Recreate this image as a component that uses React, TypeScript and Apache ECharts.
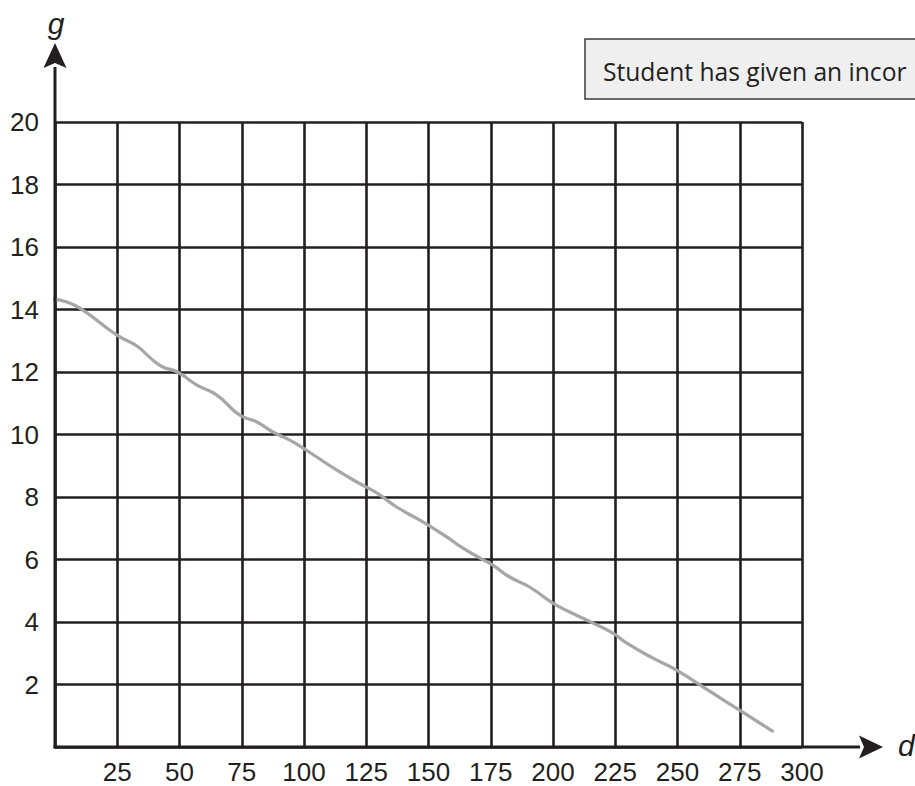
import React, { useEffect, useRef } from "react";
import * as echarts from "echarts";

const dValues = [-2, 4.8, 11.2, 24.9, 32.9, 39.3, 43.3, 49.2, 57.0, 65.0, 74.2, 81.1, 87.5, 94.3, 99.5, 105.1, 113.2, 121.2, 129.2, 137.2, 146.5, 151.7, 158.5, 163.7, 170.5, 175.8, 182.6, 190.6, 199.8, 206.7, 215.9, 223.9, 229.5, 240.0, 249.6, 264.0, 274.9, 288.1];
const gValues = [14.34, 14.24, 13.98, 13.18, 12.83, 12.38, 12.16, 12.0, 11.58, 11.26, 10.62, 10.4, 10.08, 9.82, 9.57, 9.28, 8.86, 8.48, 8.13, 7.68, 7.26, 7.01, 6.66, 6.37, 6.05, 5.82, 5.44, 5.12, 4.61, 4.32, 3.97, 3.65, 3.33, 2.85, 2.46, 1.73, 1.18, 0.51];

const xTickLabels = ["25", "50", "75", "100", "125", "150", "175", "200", "225", "250", "275", "300"];
const yTickLabels = ["2", "4", "6", "8", "10", "12", "14", "16", "18", "20"];

const xAxisName = "d";
const yAxisName = "g";
const noteText = "Student has given an incor";

const INK = "#231f20";
const FONT = "Liberation Sans";

export default function App() {
  const ref = useRef<HTMLDivElement>(null);
  useEffect(() => {
    if (!ref.current) return;
    const chart = echarts.init(ref.current, undefined, { renderer: "svg" });
    const xMax = Number(xTickLabels[xTickLabels.length - 1]);
    const xStep = Number(xTickLabels[0]);
    const yMax = Number(yTickLabels[yTickLabels.length - 1]);
    const yStep = Number(yTickLabels[0]);
    chart.setOption({
      animation: false,
      textStyle: { fontFamily: FONT },
      grid: { left: 55, right: 113, top: 122, bottom: 39, containLabel: false },
      xAxis: {
        type: "value",
        min: 0,
        max: xMax,
        interval: xStep,
        axisLine: { show: false },
        axisTick: { show: false },
        splitLine: { show: true, lineStyle: { color: INK, width: 2.6 } },
        axisLabel: {
          showMinLabel: false,
          margin: 14,
          fontSize: 26,
          lineHeight: 22,
          fontFamily: FONT,
          color: INK,
        },
      },
      yAxis: {
        type: "value",
        min: 0,
        max: yMax,
        interval: yStep,
        axisLine: { show: false },
        axisTick: { show: false },
        splitLine: { show: true, lineStyle: { color: INK, width: 2.6 } },
        axisLabel: {
          showMinLabel: false,
          margin: 16,
          fontSize: 26,
          lineHeight: 22,
          fontFamily: FONT,
          color: INK,
        },
      },
      series: [
        {
          type: "line",
          data: dValues.map((d, i) => [d, gValues[i]]),
          showSymbol: false,
          smooth: true,
          clip: false,
          lineStyle: { color: "#a6a6a6", width: 3.2, cap: "round" },
          z: 3,
        },
      ],
    });
    const o = chart.convertToPixel({ gridIndex: 0 }, [0, 0]) as number[];
    const top = chart.convertToPixel({ gridIndex: 0 }, [0, yMax]) as number[];
    const right = chart.convertToPixel({ gridIndex: 0 }, [xMax, 0]) as number[];
    const ox = o[0];
    const oy = o[1];
    const yBase = top[1] - 57;
    const yTip = top[1] - 79;
    const xBase = right[0] + 60;
    const xTip = right[0] + 81;
    chart.setOption({
      graphic: [
        {
          type: "line",
          shape: { x1: ox, y1: oy + 1.3, x2: ox, y2: yBase + 2 },
          style: { stroke: INK, lineWidth: 3 },
          z: 10,
        },
        {
          type: "polygon",
          shape: { points: [[ox, yTip], [ox - 11.5, yBase + 3], [ox, yBase - 2], [ox + 11.5, yBase + 3]] },
          style: { fill: INK },
          z: 10,
        },
        {
          type: "line",
          shape: { x1: ox - 1.5, y1: oy, x2: xBase - 2, y2: oy },
          style: { stroke: INK, lineWidth: 3 },
          z: 10,
        },
        {
          type: "polygon",
          shape: { points: [[xTip, oy], [xBase - 3, oy - 11.5], [xBase + 2, oy], [xBase - 3, oy + 11.5]] },
          style: { fill: INK },
          z: 10,
        },
        {
          type: "text",
          x: ox + 1,
          y: yTip - 20,
          style: {
            text: yAxisName,
            fontSize: 30,
            fontStyle: "italic",
            fontFamily: FONT,
            fill: INK,
            align: "center",
            verticalAlign: "middle",
          },
          z: 10,
        },
        {
          type: "text",
          x: xTip + 15,
          y: oy - 2,
          style: {
            text: xAxisName,
            fontSize: 30,
            fontStyle: "italic",
            fontFamily: FONT,
            fill: INK,
            align: "left",
            verticalAlign: "middle",
          },
          z: 10,
        },
        {
          type: "rect",
          shape: { x: 585, y: 39, width: 360, height: 60 },
          style: { fill: "#efefef", stroke: "#3c3c3c", lineWidth: 1.5 },
          z: 10,
        },
        {
          type: "text",
          x: 603,
          y: 71,
          style: {
            text: noteText,
            fontSize: 24.6,
            fontFamily: "Open Sans",
            fill: INK,
            align: "left",
            verticalAlign: "middle",
          },
          z: 11,
        },
      ],
    });
    return () => chart.dispose();
  }, []);
  return (
    <div
      ref={ref}
      style={{ position: "absolute", left: 0, top: 0, width: 915, height: 786, overflow: "hidden", background: "#fff" }}
    />
  );
}
